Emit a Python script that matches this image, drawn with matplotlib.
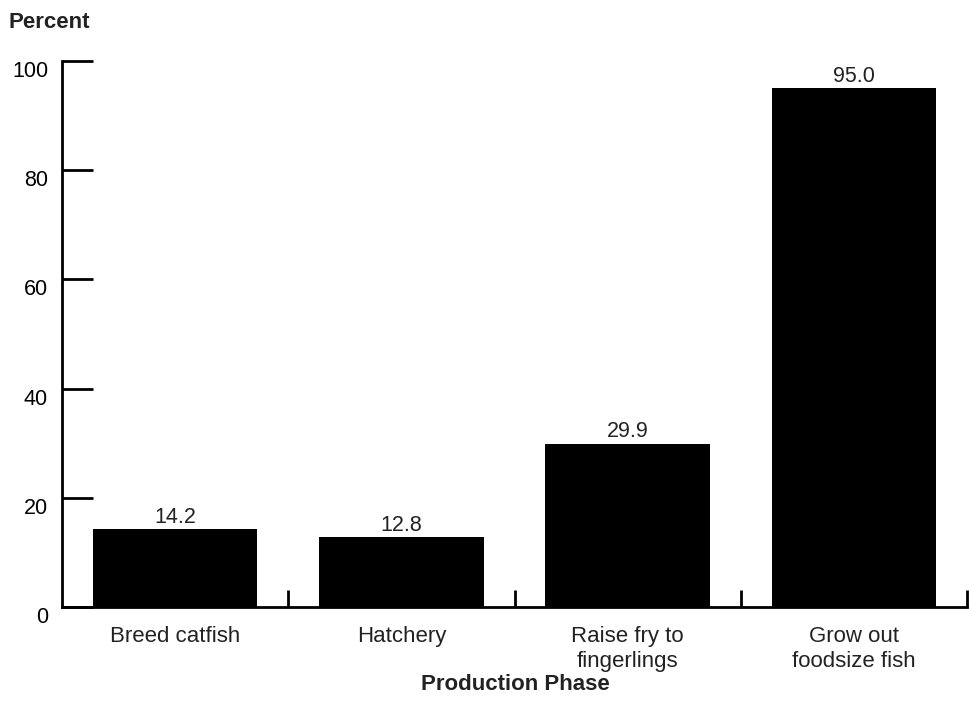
import numpy as np
import matplotlib.pyplot as plt
import matplotlib.transforms as mtransforms

plt.rcParams['font.family'] = ['Liberation Sans', 'DejaVu Sans']

# Share of operations by production phase
phases = ['Breed catfish', 'Hatchery', 'Raise fry to\nfingerlings', 'Grow out\nfoodsize fish']
percent = [14.2, 12.8, 29.9, 95.0]
y_ticks = [0, 20, 40, 60, 80, 100]

fig = plt.figure(figsize=(9.69, 7.19), dpi=100)
ax = fig.add_axes([62 / 969, 1 - 607 / 719, 905 / 969, 546 / 719])

x = np.arange(len(phases))
bars = ax.bar(x, percent, width=0.726, color='black')

for xi, v in zip(x, percent):
    ax.text(xi, v + 0.25, f'{v:.1f}', ha='center', va='bottom', fontsize=15.5,
            color='#222222')

ax.set_xlim(-0.5, len(phases) - 0.5)
ax.set_ylim(0, 100)

for s in ['top', 'right']:
    ax.spines[s].set_visible(False)
for s in ['left', 'bottom']:
    ax.spines[s].set_linewidth(2)

# y ticks point into the plot; labels sit a little below their tick
ax.set_yticks(y_ticks)
ax.set_yticklabels([str(t) for t in y_ticks], fontsize=15.5)
ax.tick_params(axis='y', direction='in', length=22, width=2, pad=10)
offset = mtransforms.ScaledTranslation(0, -8 / 100, fig.dpi_scale_trans)
for lab in ax.get_yticklabels():
    lab.set_transform(lab.get_transform() + offset)

# x axis: boundary ticks between categories, labels at the centres
ax.set_xticks(x)
ax.set_xticklabels(phases, fontsize=16, linespacing=1.25, color='#222222')
ax.tick_params(axis='x', which='major', length=0, pad=13.5)
ax.set_xticks(np.arange(0.5, len(phases), 1.0), minor=True)
ax.tick_params(axis='x', which='minor', direction='in', length=12, width=2)

fig.text(9 / 969, 1 - 22 / 719, 'Percent', fontsize=16, fontweight='bold',
         ha='left', va='center', color='#222222')
fig.text(515 / 969, 1 - 685 / 719, 'Production Phase', fontsize=16,
         fontweight='bold', ha='center', va='center', color='#222222')

fig.savefig('out.png', dpi=100)
